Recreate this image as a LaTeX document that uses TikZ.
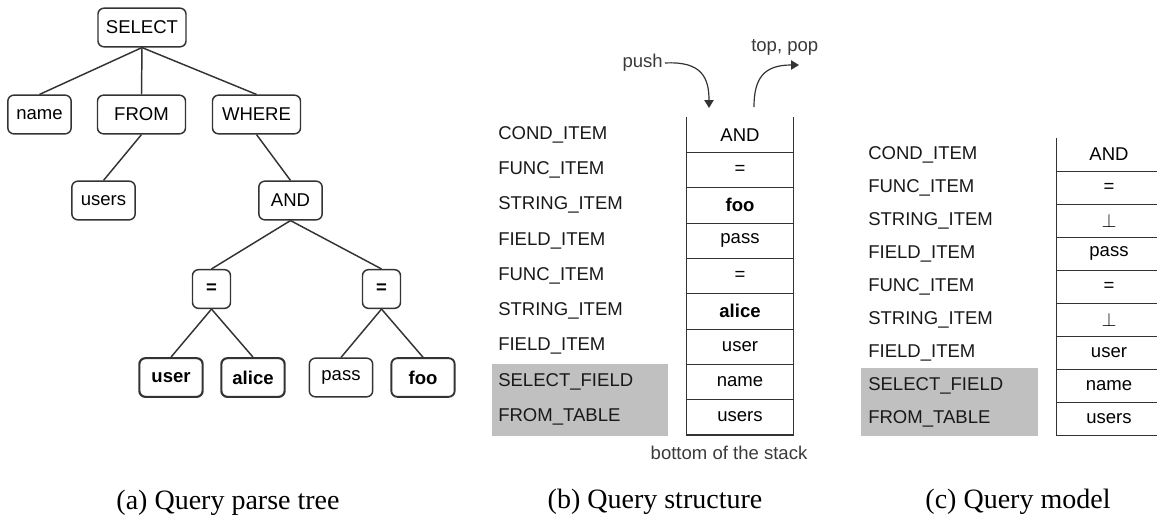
\documentclass[tikz,border=0pt]{standalone}
\usepackage{fontspec}
\setmainfont{Liberation Sans}
\newfontfamily\capfont{Liberation Serif}
\usetikzlibrary{arrows.meta}
\definecolor{edge}{HTML}{333333}
\definecolor{greyfill}{HTML}{C0C0C0}
\definecolor{notecol}{HTML}{3A3A3A}
\begin{document}
\begin{tikzpicture}[x=0.75pt,y=-0.75pt,
  font=\fontsize{13.9}{16}\selectfont,
  tn/.style={draw=edge,line width=1.1pt,rounded corners=4.5pt,minimum height=29pt,inner sep=0pt,text=black},
  short/.style={tn,minimum width=47.5pt},
  wide/.style={tn,minimum width=66pt},
  eqbox/.style={tn,minimum width=28.5pt,font=\fontsize{13.9}{16}\selectfont\bfseries},
  strong/.style={short,line width=1.6pt,font=\fontsize{13.9}{16}\selectfont\bfseries},
  link/.style={draw=edge,line width=1.1pt},
  cellb/.style={minimum width=80pt,minimum height=26.5pt,inner sep=0pt,text=black},
  cellc/.style={minimum width=78pt,minimum height=24.75pt,inner sep=0pt,text=black},
  lab/.style={anchor=west,inner sep=0pt,text=black!90},
  wall/.style={draw=edge,line width=0.8pt},
  note/.style={text=notecol},
  caption/.style={anchor=base,font=\capfont\fontsize{21}{24}\selectfont},
  tip/.style={-{Triangle[length=6pt,width=7pt]}}
]
\clip (0,0) rectangle (1157,518);

% ---------- parse tree ----------
\node[wide]  (select) at (142,27.5)   {SELECT};
\node[short] (name)   at (39.5,114.5) {name};
\node[wide]  (from)   at (141.5,114.5){FROM};
\node[wide]  (where)  at (256.5,114.5){WHERE};
\node[short] (users)  at (103.5,200.5){users};
\node[short] (and)    at (290.5,200.5){AND};
\node[eqbox] (eqa)    at (211.5,289)  {=};
\node[eqbox] (eqb)    at (381.5,289)  {=};
\node[strong](user)   at (171,377.5)  {user};
\node[strong](alice)  at (253,377.5)  {alice};
\node[short] (pass)   at (341,377.5)  {pass};
\node[short,line width=1.4pt,font=\fontsize{13.9}{16}\selectfont\bfseries] (foo) at (423,377.5) {foo};

\draw[link] (select.south) -- (name.north);
\draw[link] (select.south) -- (from.north);
\draw[link] (select.south) -- (where.north);
\draw[link] (from.south) -- (users.north);
\draw[link] (where.south) -- (and.north);
\draw[link] (and.south) -- (eqa.north);
\draw[link] (and.south) -- (eqb.north);
\draw[link] (eqa.south) -- (user.north);
\draw[link] (eqa.south) -- (alice.north);
\draw[link] (eqb.south) -- (pass.north);
\draw[link] (eqb.south) -- (foo.north);

% ---------- query structure (stack) ----------
\fill[greyfill] (492,364) rectangle (668,435.7);
\foreach \t [count=\i] in {COND\_ITEM,FUNC\_ITEM,STRING\_ITEM,FIELD\_ITEM,FUNC\_ITEM,STRING\_ITEM,FIELD\_ITEM,SELECT\_FIELD,FROM\_TABLE}
  \node[lab] (bl\i) at (498,{117+35.3*(\i-0.5)}) {\t};
\foreach \t [count=\i] in {AND,=,\textbf{foo},pass,=,\textbf{alice},user,name,users}
  \node[cellb] (bs\i) at (740,{117+35.3*(\i-0.5)}) {\t};
\draw[wall] (bs1.north west) -- (bs9.south west) -- (bs9.south east) -- (bs1.north east);
\foreach \i in {1,...,8}
  \draw[wall] (bs\i.south west) -- (bs\i.south east);

\node[note,anchor=east,inner sep=0pt] (push) at (663,63) {push};
\node[note,anchor=west,inner sep=0pt] (toppop) at (751,47) {top, pop};
\coordinate (pushtip) at (709,108);
\coordinate (popfoot) at (754,107);
\coordinate (poptip)  at (799,65);
\draw[link,line width=0.9pt,tip] ([xshift=1.5pt]push.east) .. controls (702,61) and (709,78) .. (pushtip);
\draw[link,line width=0.9pt,tip] (popfoot) .. controls (754,78) and (764,65) .. (poptip);
\node[note] (bottom) at (729,453) {bottom of the stack};

% ---------- query model (stack) ----------
\fill[greyfill] (861,368) rectangle (1038,436);
\foreach \t [count=\i] in {COND\_ITEM,FUNC\_ITEM,STRING\_ITEM,FIELD\_ITEM,FUNC\_ITEM,STRING\_ITEM,FIELD\_ITEM,SELECT\_FIELD,FROM\_TABLE}
  \node[lab] (cl\i) at (868,{138+33*(\i-0.5)}) {\t};
\foreach \t [count=\i] in {AND,=,$\bot$,pass,=,$\bot$,user,name,users}
  \node[cellc] (cs\i) at (1109,{138+33*(\i-0.5)}) {\t};
\draw[wall] (cs1.north west) -- (cs9.south west) -- (cs9.south east) -- (cs1.north east);
\foreach \i in {1,...,8}
  \draw[wall] (cs\i.south west) -- (cs\i.south east);

% ---------- captions ----------
\node[caption] (capa) at (228,509) {(a) Query parse tree};
\node[caption] (capb) at (655,508) {(b) Query structure};
\node[caption] (capc) at (1018,508) {(c) Query model};
\end{tikzpicture}
\end{document}
